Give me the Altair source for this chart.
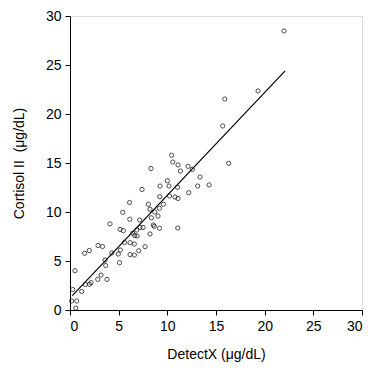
import altair as alt
import pandas as pd

# DetectX values (µg/dL)
detectx = [0.17, 0.69, 0.59, 0.28, 0.51, 1.20, 1.51, 1.98, 1.59, 2.00,
           2.16, 2.85, 2.88, 3.34, 3.19, 3.60, 3.67, 3.80, 4.11, 4.29,
           4.96, 5.09, 5.17, 5.14, 5.48, 5.42, 5.60, 6.12, 6.14, 6.17,
           6.17, 6.61, 6.61, 7.06, 7.71, 7.16, 6.44, 6.65, 6.89, 8.22,
           7.19, 7.50, 6.86, 8.56, 8.66, 9.20, 11.07, 8.36, 8.71, 9.04,
           8.22, 9.18, 8.05, 9.59, 7.40, 8.32, 9.22, 10.23, 10.79, 11.10,
           9.25, 10.17, 10.00, 11.05, 12.20, 10.45, 10.56, 11.10, 11.34, 12.13,
           12.57, 13.36, 13.12, 14.29, 16.31, 15.69, 15.90, 19.32, 21.99]
# Cortisol II values (µg/dL)
cortisol = [0.92, 0.92, 0.20, 2.09, 4.01, 1.89, 5.79, 6.07, 2.60, 2.62,
            2.79, 3.13, 6.58, 6.48, 3.57, 5.10, 4.54, 3.13, 8.78, 5.82,
            5.71, 4.83, 6.12, 8.23, 8.09, 9.97, 6.89, 10.97, 9.26, 5.66,
            6.87, 6.73, 5.61, 6.05, 6.46, 9.18, 7.83, 7.60, 7.55, 7.76,
            8.42, 8.42, 8.16, 8.67, 8.54, 8.34, 8.37, 9.41, 10.00, 9.59,
            10.28, 10.38, 10.79, 10.79, 12.30, 14.44, 11.56, 11.63, 11.53, 11.38,
            12.65, 12.65, 13.19, 12.52, 11.97, 15.79, 15.10, 14.80, 14.18, 14.66,
            14.36, 13.57, 12.65, 12.76, 14.97, 18.78, 21.53, 22.35, 28.47]

# fitted line endpoints
fit_x = [0.24, 22.1]
fit_y = [1.46, 24.4]

pts = pd.DataFrame({"x": detectx, "y": cortisol})
fit = pd.DataFrame({"x": fit_x, "y": fit_y})

FONT = "Liberation Sans"

xscale = alt.Scale(domain=[0, 30], nice=False, zero=True)
yscale = alt.Scale(domain=[0, 30], nice=False, zero=True)

xaxis = alt.Axis(values=[0, 5, 10, 15, 20, 25, 30], title="DetectX (μg/dL)",
                 grid=False, domainColor="black", tickColor="black",
                 tickSize=5, labelPadding=4, titlePadding=14,
                 labelFont=FONT, titleFont=FONT, labelFontSize=14,
                 titleFontSize=14, titleFontWeight="normal",
                 labelColor="black", titleColor="black")
yaxis = alt.Axis(values=[0, 5, 10, 15, 20, 25, 30], title="Cortisol II\u00a0 (μg/dL)",
                 grid=False, domainColor="black", tickColor="black",
                 tickSize=5, labelPadding=4, titlePadding=19,
                 labelFont=FONT, titleFont=FONT, labelFontSize=14,
                 titleFontSize=14, titleFontWeight="normal",
                 labelColor="black", titleColor="black")

points = alt.Chart(pts).mark_point(
    shape="circle", filled=False, color="black", size=18, strokeWidth=1
).encode(
    x=alt.X("x:Q", scale=xscale, axis=xaxis),
    y=alt.Y("y:Q", scale=yscale, axis=yaxis),
)

line = alt.Chart(fit).mark_line(color="black", strokeWidth=1.2).encode(
    x=alt.X("x:Q", scale=xscale),
    y=alt.Y("y:Q", scale=yscale),
)

chart = alt.layer(points, line).properties(
    width=292, height=294,
    autosize=alt.AutoSizeParams(type="none"),
    padding={"left": 70, "top": 16, "right": 12, "bottom": 60},
).configure_view(stroke=None).configure(background="white")

chart.save("out.html", embed_options={"renderer": "svg", "actions": False})
